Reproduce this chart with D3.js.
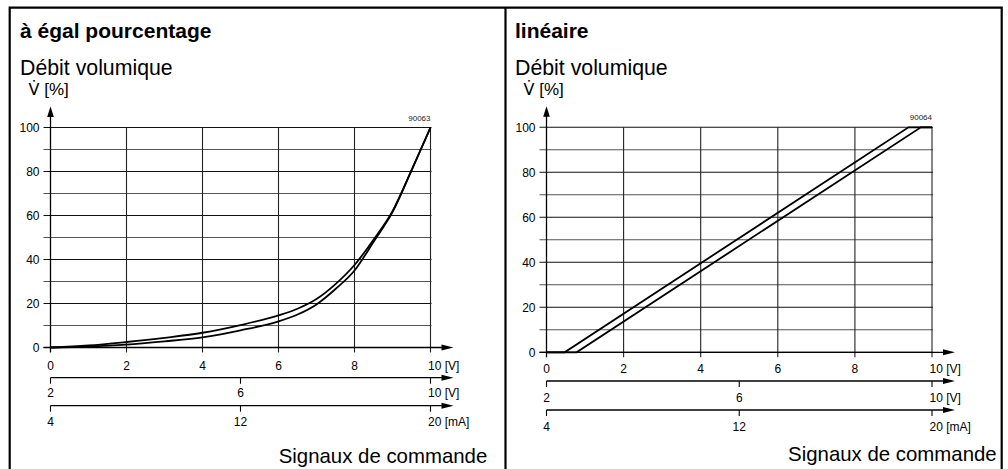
<!DOCTYPE html>
<html>
<head>
<meta charset="utf-8">
<script src="https://cdn.jsdelivr.net/npm/d3@7"></script>
<style>
  body { margin: 0; background: #fff; }
  text { font-family: "Liberation Sans", Arial, sans-serif; fill: #000; }
</style>
</head>
<body>
<script>
var svgWidth = 1008;
var svgHeight = 469;

// axis ticks
var voltTicks = [0, 2, 4, 6, 8, 10];
var volt2Ticks = [2, 6, 10];
var mATicks = [4, 12, 20];
var flowTicks = [0, 20, 40, 60, 80, 100];
var flowGrid = [0, 10, 20, 30, 40, 50, 60, 70, 80, 90, 100];

// à égal pourcentage: two branches of the curve
var eqpX     = [0, 1, 2, 3, 4, 5, 6, 6.5, 7, 7.5, 8, 8.5, 9, 9.5, 10];
var eqpUpper = [0, 0.9, 2.5, 4.4, 6.7, 10.2, 14.6, 17.6, 22, 28.8, 37.5, 49, 62, 80.5, 100];
var eqpLower = [0, 0.4, 1.3, 2.8, 4.6, 7.8, 11.9, 15, 19.6, 26.6, 35, 48, 61.5, 80.5, 100];

// linéaire: two parallel lines
var linUpperX = [0, 0.47, 9.39, 10];
var linUpperY = [0, 0, 100, 100];
var linLowerX = [0, 0.78, 9.71, 10];
var linLowerY = [0, 0, 100, 100];

var svg = d3.select('body')
	.append('svg')
	.attr('width', svgWidth)
	.attr('height', svgHeight);

// cadre
var frame = svg.append('g')
	.attr('stroke', '#000')
	.attr('stroke-width', 2.2)
	.attr('fill', 'none');
frame.append('path').attr('d', 'M9.7,' + (svgHeight + 2) + 'V7.7H1001.7V' + (svgHeight + 2));
frame.append('line').attr('x1', 505.5).attr('x2', 505.5).attr('y1', 7.7).attr('y2', svgHeight + 2);

function zip(xs, ys) {
	return xs.map(function (x, i) { return [x, ys[i]]; });
}

function drawPanel(p) {
	var g = svg.append('g');
	var x = d3.scaleLinear().domain([0, 10]).range(p.xr);
	var x2 = d3.scaleLinear().domain([2, 10]).range(p.xr);
	var x3 = d3.scaleLinear().domain([4, 20]).range(p.xr);
	var y = d3.scaleLinear().domain([0, 100]).range(p.yr);
	var arrowEnd = p.xr[1] + 23;

	// titres
	g.append('text').attr('x', p.left).attr('y', 37.7)
		.style('font-size', '21px').style('font-weight', 'bold').text(p.title);
	g.append('text').attr('x', p.left).attr('y', 75)
		.style('font-size', '21.3px').text('Débit volumique');
	var vt = g.append('text').attr('x', p.left + 8.5).attr('y', 95)
		.style('font-size', '17px');
	vt.append('tspan').style('font-family', '"DejaVu Sans"').style('font-size', '16px').text('V\u0307');
	vt.append('tspan').text(' [%]');
	g.append('text').attr('x', p.xr[1]).attr('y', p.yr[1] - 7)
		.attr('text-anchor', 'end').style('font-size', '8px').style('fill', '#222').text(p.code);

	// grille horizontale
	g.append('g').selectAll('line')
		.data(flowGrid)
		.enter()
		.append('line')
		.attr('x1', p.xr[0] - 7).attr('x2', p.xr[1] + 1)
		.attr('y1', function (d) { return y(d); })
		.attr('y2', function (d) { return y(d); })
		.attr('stroke', function (d) { return d % 20 ? '#555' : '#111'; })
		.attr('stroke-width', 1.1);

	// grille verticale
	g.append('g').selectAll('line')
		.data(voltTicks.slice(1))
		.enter()
		.append('line')
		.attr('x1', function (d) { return x(d); })
		.attr('x2', function (d) { return x(d); })
		.attr('y1', p.yr[1]).attr('y2', p.yr[0] + 5)
		.attr('stroke', '#222')
		.attr('stroke-width', 1.1);

	// axe Y avec flèche
	g.append('line')
		.attr('x1', p.xr[0]).attr('x2', p.xr[0])
		.attr('y1', p.yr[0] + 5).attr('y2', p.yr[1] - 12)
		.attr('stroke', '#000').attr('stroke-width', 1.3);
	g.append('path')
		.attr('d', 'M' + p.xr[0] + ',' + (p.yr[1] - 21) + 'l-3.3,10.5h6.6z')
		.attr('fill', '#000');

	g.append('g').selectAll('text')
		.data(flowTicks)
		.enter()
		.append('text')
		.attr('x', p.xr[0] - 11)
		.attr('y', function (d) { return y(d) + 4.3; })
		.attr('text-anchor', 'end')
		.style('font-size', '12px')
		.text(function (d) { return d; });

	// axes X (tension, tension 2-10, courant)
	var axes = [
		{ scale: x, ticks: voltTicks, unit: '[V]', lineY: p.yr[0], labelY: p.lab1, grid: true },
		{ scale: x2, ticks: volt2Ticks, unit: '[V]', lineY: p.line2, labelY: p.lab2 },
		{ scale: x3, ticks: mATicks, unit: '[mA]', lineY: p.line3, labelY: p.lab3 }
	];
	axes.forEach(function (a) {
		var ag = g.append('g');
		ag.append('line')
			.attr('x1', a.grid ? p.xr[0] - 7 : p.xr[0]).attr('x2', arrowEnd - 11)
			.attr('y1', a.lineY).attr('y2', a.lineY)
			.attr('stroke', '#000').attr('stroke-width', 1.3);
		ag.append('path')
			.attr('d', 'M' + arrowEnd + ',' + a.lineY + 'l-12,-3l0,6z')
			.attr('fill', '#000');
		if (!a.grid) {
			ag.selectAll('line.tick')
				.data(a.ticks)
				.enter()
				.append('line')
				.attr('class', 'tick')
				.attr('x1', function (d) { return a.scale(d); })
				.attr('x2', function (d) { return a.scale(d); })
				.attr('y1', a.lineY).attr('y2', a.lineY + 6)
				.attr('stroke', '#000').attr('stroke-width', 1.1);
		}
		ag.selectAll('text')
			.data(a.ticks)
			.enter()
			.append('text')
			.attr('x', function (d, i) { return i === a.ticks.length - 1 ? a.scale(d) - 2.5 : a.scale(d); })
			.attr('y', a.labelY)
			.attr('text-anchor', function (d, i) { return i === a.ticks.length - 1 ? 'start' : 'middle'; })
			.style('font-size', '12px')
			.text(function (d, i) { return i === a.ticks.length - 1 ? d + ' ' + a.unit : d; });
	});

	g.append('text').attr('x', p.sigX).attr('y', p.sigY)
		.attr('text-anchor', 'end').style('font-size', '20.4px').text('Signaux de commande');

	// courbes
	var line = d3.line()
		.x(function (d) { return x(d[0]); })
		.y(function (d) { return y(d[1]); })
		.curve(p.curve);
	g.append('g').selectAll('path')
		.data(p.series)
		.enter()
		.append('path')
		.attr('d', line)
		.attr('fill', 'none')
		.attr('stroke', '#000')
		.attr('stroke-width', 1.8);
}

drawPanel({
	title: 'à égal pourcentage', code: '90063', left: 20,
	xr: [50.5, 430.5], yr: [347.5, 127.5],
	lab1: 369.5, line2: 377.7, lab2: 397.3, line3: 405.7, lab3: 426,
	sigX: 487.3, sigY: 463,
	curve: d3.curveMonotoneX,
	series: [zip(eqpX, eqpUpper), zip(eqpX, eqpLower)]
});

drawPanel({
	title: 'linéaire', code: '90064', left: 515,
	xr: [546.5, 932], yr: [352.3, 127.3],
	lab1: 372.6, line2: 381, lab2: 401.6, line3: 410, lab3: 431,
	sigX: 996.7, sigY: 461,
	curve: d3.curveLinear,
	series: [zip(linUpperX, linUpperY), zip(linLowerX, linLowerY)]
});
</script>
</body>
</html>
